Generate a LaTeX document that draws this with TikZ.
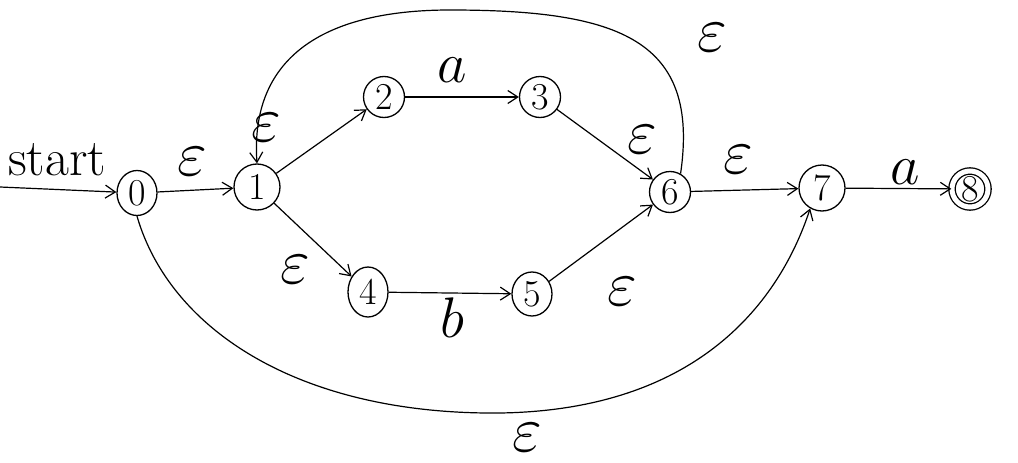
\documentclass[tikz,border=0pt]{standalone}
\usepackage{fontspec}
\usetikzlibrary{arrows.meta,shapes.geometric}
\begin{document}
\begin{tikzpicture}[x=1pt,y=-1pt,
  state/.style={circle,draw,line width=1.3pt,minimum size=41pt,inner sep=0pt,font=\fontsize{38}{40}\selectfont},
  edge/.style={-{Straight Barb[length=10pt,width=13pt]},line width=1.2pt},
  lab/.style={font=\Huge,inner sep=0pt,scale=2.6},
  sym/.style={font=\Huge,inner sep=0pt,scale=2.3}]
\useasboundingbox (0,0) rectangle (1018,463);
\node[state,ellipse,minimum width=40pt,minimum height=45pt] (s0) at (137,193) {0};
\node[state,minimum size=46pt] (s1) at (257,187) {1};
\node[state] (s2) at (384,97) {2};
\node[state] (s3) at (540,97) {3};
\node[state,ellipse,minimum width=40pt,minimum height=50pt] (s4) at (368,292) {4};
\node[state,ellipse,minimum width=40pt,minimum height=44pt] (s5) at (532,294) {5};
\node[state] (s6) at (670,192) {6};
\node[state,minimum size=46pt] (s7) at (822,188) {7};
\node[state,double,double distance=5pt,minimum size=36pt] (s8) at (970,189) {8};
\coordinate (st) at (0,187);
\node[font=\fontsize{52}{54}\selectfont,inner sep=0pt] (lstart) at (57,160) {start};
\draw[edge] (st) -- (s0);
\draw[edge] (s0) -- (s1);
\draw[edge] (s1) -- (s2);
\draw[edge] (s2) -- (s3);
\draw[edge] (s3) -- (s6);
\draw[edge] (s1) -- (s4);
\draw[edge] (s4) -- (s5);
\draw[edge] (s5) -- (s6);
\draw[edge] (s6) -- (s7);
\draw[edge] (s7) -- (s8);
\draw[edge] (s6.60) .. controls (700,40) and (620,10) .. (450,10)
  .. controls (320,10) and (250,60) .. (s1.north);
\draw[edge] (s0.south) .. controls (170,330) and (300,415) .. (500,413)
  .. controls (700,410) and (780,300) .. (s7.240);
\node[lab] (l01) at (192,162) {$\varepsilon$};
\node[lab] (l12) at (266,128) {$\varepsilon$};
\node[sym] (l23) at (452,70) {$a$};
\node[lab] (l36) at (642,140) {$\varepsilon$};
\node[lab] (l14) at (295,270) {$\varepsilon$};
\node[sym] (l45) at (452,318) {$b$};
\node[lab] (l56) at (622,292) {$\varepsilon$};
\node[lab] (l67) at (738,160) {$\varepsilon$};
\node[sym] (l78) at (905,172) {$a$};
\node[lab] (l61) at (712,38) {$\varepsilon$};
\node[lab] (l07) at (527,438) {$\varepsilon$};
\end{tikzpicture}
\end{document}
